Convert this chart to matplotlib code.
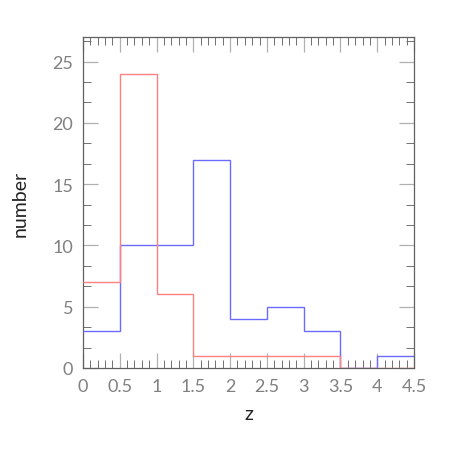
import matplotlib
matplotlib.use("Agg")
import matplotlib.pyplot as plt
import numpy as np
from matplotlib.ticker import MultipleLocator

bin_edges = [0, 0.5, 1.0, 1.5, 2.0, 2.5, 3.0, 3.5, 4.0, 4.5]
red_counts = [7, 24, 6, 1, 1, 1, 1, 0, 0]
blue_counts = [3, 10, 10, 17, 4, 5, 3, 0, 1]
xtick_labels = ['0', '0.5', '1', '1.5', '2', '2.5', '3', '3.5', '4', '4.5']

plt.rcParams['font.family'] = ['Lato', 'DejaVu Sans']

fig = plt.figure(figsize=(4.52, 4.52), dpi=100)
ax = fig.add_axes([83/452, 83/452, 331/452, 331/452])

ax.stairs(blue_counts, bin_edges, color='#6b6bff', lw=1.0, baseline=None, zorder=3)
ax.stairs(red_counts, bin_edges, color='#ff8080', lw=1.0, baseline=None, zorder=3)

ax.set_xlim(0, 4.5)
ax.set_ylim(0, 27)
ax.set_xticks(bin_edges)
ax.set_xticklabels(xtick_labels)
ax.xaxis.set_minor_locator(MultipleLocator(0.1))
ax.yaxis.set_major_locator(MultipleLocator(5))
ax.yaxis.set_minor_locator(MultipleLocator(5/3))

ax.tick_params(which='both', direction='in', top=True, right=True,
               labelcolor='#808080', labelsize=13)
ax.tick_params(which='major', length=11, width=0.9, color='#b0b0b0', pad=7)
ax.tick_params(which='minor', length=6, width=0.7, color='#707070')
for s in ax.spines.values():
    s.set_color('#606060')
    s.set_linewidth(0.9)

ax.set_xlabel('z', fontsize=14, color='#222222', labelpad=8)
ax.set_ylabel('number', fontsize=14, color='#222222', labelpad=17)

fig.savefig('out.png', dpi=100)
